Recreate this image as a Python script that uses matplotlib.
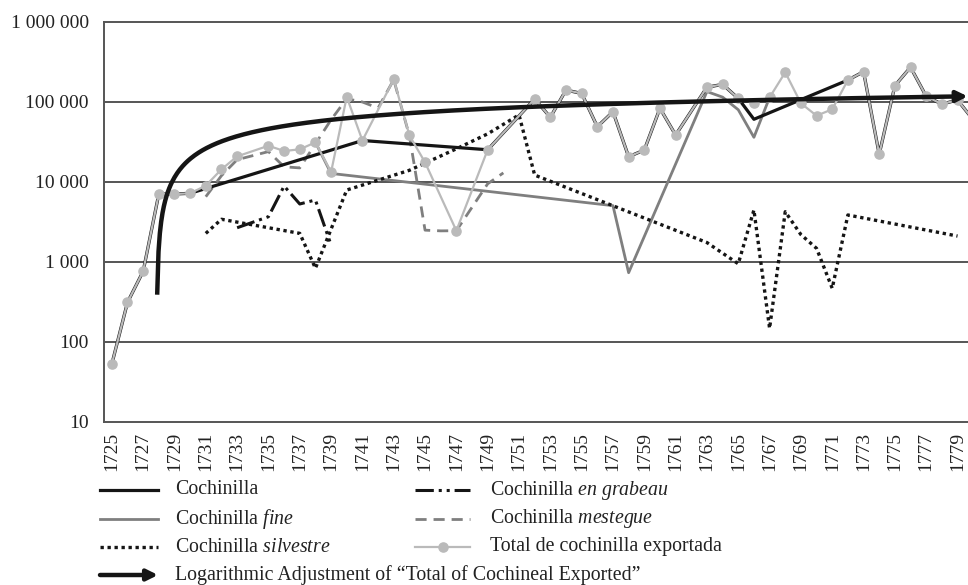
import numpy as np
import matplotlib
matplotlib.use("Agg")
import matplotlib.pyplot as plt
from matplotlib.lines import Line2D
from matplotlib.patches import FancyArrowPatch
from matplotlib.ticker import FixedLocator, FixedFormatter, NullLocator

plt.rcParams['font.family'] = ['Liberation Serif', 'DejaVu Serif']
plt.rcParams['mathtext.fontset'] = 'custom'
plt.rcParams['mathtext.rm'] = 'Liberation Serif'
plt.rcParams['mathtext.it'] = 'Liberation Serif:italic'

# ---------------- data ----------------
total_years = [1725, 1726, 1727, 1728, 1729, 1730, 1731, 1732, 1733, 1735, 1736, 1737, 1738,
               1739, 1740, 1741, 1743, 1744, 1745, 1747, 1749, 1752, 1753, 1754, 1755, 1756,
               1757, 1758, 1759, 1760, 1761, 1763, 1764, 1765, 1766, 1767, 1768, 1769, 1770,
               1771, 1772, 1773, 1774, 1775, 1776, 1777, 1778, 1779, 1780]
total = [53, 313, 765, 7080, 7080, 7220, 9000, 14400, 20900, 28400, 24400, 25600, 31300,
         13300, 116000, 33000, 192000, 38300, 17600, 2460, 25300, 109000, 64400, 141000, 128000, 49100,
         75600, 20700, 25100, 83400, 38700, 153000, 166000, 111000, 98000, 114000, 235000, 96400, 67400,
         81100, 188000, 239000, 22200, 160000, 272000, 118000, 94000, 106000, 60000]

coch_years = [1725, 1726, 1727, 1728, 1729, 1730, 1741, 1749, 1752, 1753, 1754, 1755, 1756, 1757,
              1758, 1759, 1760, 1761, 1763, 1764, 1765, 1766, 1772, 1773, 1774, 1775, 1776, 1777,
              1778, 1779, 1780]
coch = [53, 313, 765, 7080, 7080, 7220, 33000, 25300, 109000, 64400, 141000, 128000, 49100, 75600,
        20700, 25100, 83400, 38700, 153000, 166000, 111000, 60800, 188000, 239000, 22200, 160000, 272000, 118000,
        94000, 106000, 60000]

fine_years = [1738, 1739, 1757, 1758, 1763, 1764, 1765, 1766, 1767]
fine = [31300, 12800, 5060, 735, 135000, 115000, 80000, 36200, 114000]

silv_years = [1731, 1732, 1737, 1738, 1740, 1744, 1747, 1749, 1751, 1752, 1763, 1765, 1766,
              1767, 1768, 1769, 1770, 1771, 1772, 1779]
silv = [2280, 3420, 2280, 835, 7940, 14000, 26000, 40000, 69000, 12200, 1750, 950, 4470,
        148, 4250, 2200, 1480, 469, 3870, 2110]

grab_years = [1733, 1735, 1736, 1737, 1738, 1739]
grab = [2680, 3680, 8900, 5310, 5960, 1630]

mest_years = [1731, 1732, 1733, 1735, 1736, 1737, 1738, 1739, 1740, 1741, 1742, 1743, 1744,
              1745, 1746, 1747, 1749, 1750]
mest = [6550, 12000, 19000, 24000, 15500, 15000, 30000, 60000, 110000, 100000, 84000, 190000, 38000,
        2500, 2450, 2460, 9500, 13000]

y_ticks = [10, 100, 1000, 10000, 100000, 1000000]
y_labels = ['10', '100', '1 000', '10 000', '100 000', '1 000 000']
x_ticks = list(range(1725, 1780, 2))

labels = ['Cochinilla', 'Cochinilla $\\mathit{fine}$', 'Cochinilla $\\mathit{silvestre}$',
          'Logarithmic Adjustment of \u201cTotal of Cochineal Exported\u201d',
          'Cochinilla $\\mathit{en\\ grabeau}$', 'Cochinilla $\\mathit{mestegue}$',
          'Total de cochinilla exportada']

# ---------------- figure ----------------
W, H = 968, 585
fig = plt.figure(figsize=(W / 100, H / 100), dpi=100)
ax = fig.add_axes([104 / W, 1 - 422 / H, (981 - 104) / W, 400 / H])
ax.set_yscale('log')
ax.set_ylim(10, 1e6)
ax.set_xlim(1724.5, 1780.5)

grid_c = '#555555'
for s in ax.spines.values():
    s.set_color(grid_c)
    s.set_linewidth(1.4)
for v in y_ticks[1:-1]:
    ax.axhline(v, color=grid_c, lw=1.4, zorder=1)

ax.yaxis.set_major_locator(FixedLocator(y_ticks))
ax.yaxis.set_major_formatter(FixedFormatter(y_labels))
ax.yaxis.set_minor_locator(NullLocator())
ax.set_xticks(x_ticks)
ax.set_xticklabels([str(x) for x in x_ticks], rotation=90)
ax.tick_params(axis='both', length=0, labelsize=14, colors='#222222')
ax.tick_params(axis='y', pad=11)
ax.tick_params(axis='x', pad=7)

BLACK = '#151515'
MID = '#7f7f7f'
LIGHT = '#bababa'

sty = {
    'coch': dict(color=BLACK, lw=2.3, ls='-'),
    'fine': dict(color=MID, lw=2.0, ls='-'),
    'silv': dict(color=BLACK, lw=2.4, ls=(0, (1, 1.1))),
    'grab': dict(color=BLACK, lw=2.2, ls=(0, (6, 1.6, 1, 1.6, 1, 1.6))),
    'mest': dict(color=MID, lw=2.0, ls=(0, (4, 2.5))),
    'total': dict(color=LIGHT, lw=1.6, ls='-', marker='o', ms=6.6, mfc=LIGHT, mec=LIGHT),
}

ax.plot(fine_years, fine, zorder=3, **sty['fine'])
ax.plot(mest_years, mest, zorder=3, **sty['mest'])
ax.plot(silv_years, silv, zorder=3, **sty['silv'])
ax.plot(grab_years, grab, zorder=3, **sty['grab'])
ax.plot(coch_years, coch, zorder=4, **sty['coch'])
ax.plot(total_years, total, zorder=5, **sty['total'])

# logarithmic trendline fitted to the total (Excel-style: x = category index)
t = np.array(total_years) - 1724.0
a, b = np.polyfit(np.log(t), np.array(total, dtype=float), 1)
x_start = 1724.0 + np.exp((390 - b) / a)
x_end = 1779.65
xs = np.linspace(x_start, x_end - 0.6, 600)
ys = a * np.log(xs - 1724.0) + b
ax.plot(xs, ys, color=BLACK, lw=3.2, zorder=6, solid_capstyle='butt')
ax.annotate('', xy=(x_end, a * np.log(x_end - 1724.0) + b),
            xytext=(x_end - 0.8, a * np.log(x_end - 0.8 - 1724.0) + b),
            arrowprops=dict(arrowstyle='-|>', color=BLACK, lw=3.2,
                            mutation_scale=16, shrinkA=0, shrinkB=0),
            zorder=7)

# ---------------- legend (manual) ----------------
def fy(y):
    return 1 - y / H

rows = [490, 519, 547, 575]
col1 = (100, 158, 175)
col2 = (415, 470, 490)
entries = [
    (col1, rows[0], 'coch'), (col1, rows[1], 'fine'), (col1, rows[2], 'silv'),
    (col1, rows[3], 'arrow'),
    (col2, rows[0], 'grab'), (col2, rows[1], 'mest'), (col2, rows[2], 'total'),
]
for (col, y, key), lab in zip(entries, labels):
    x0, x1, xt = col
    if key == 'arrow':
        arr = FancyArrowPatch((x0 / W, fy(y)), (x1 / W, fy(y)), transform=fig.transFigure,
                              arrowstyle='-|>', color=BLACK, lw=3.2, mutation_scale=16,
                              shrinkA=0, shrinkB=0)
        fig.add_artist(arr)
    elif key == 'total':
        fig.add_artist(Line2D([x0 / W, x1 / W], [fy(y), fy(y)], transform=fig.transFigure,
                              color=LIGHT, lw=1.6))
        fig.add_artist(Line2D([(x0 + x1) / 2 / W], [fy(y)], transform=fig.transFigure,
                              marker='o', ms=6.6, color=LIGHT, ls='none'))
    else:
        s = dict(sty[key])
        fig.add_artist(Line2D([x0 / W, x1 / W], [fy(y), fy(y)], transform=fig.transFigure, **s))
    fig.text(xt / W, fy(y), lab, fontsize=14.3, va='center', ha='left', color='#222222')

fig.savefig('out.png', dpi=100)
